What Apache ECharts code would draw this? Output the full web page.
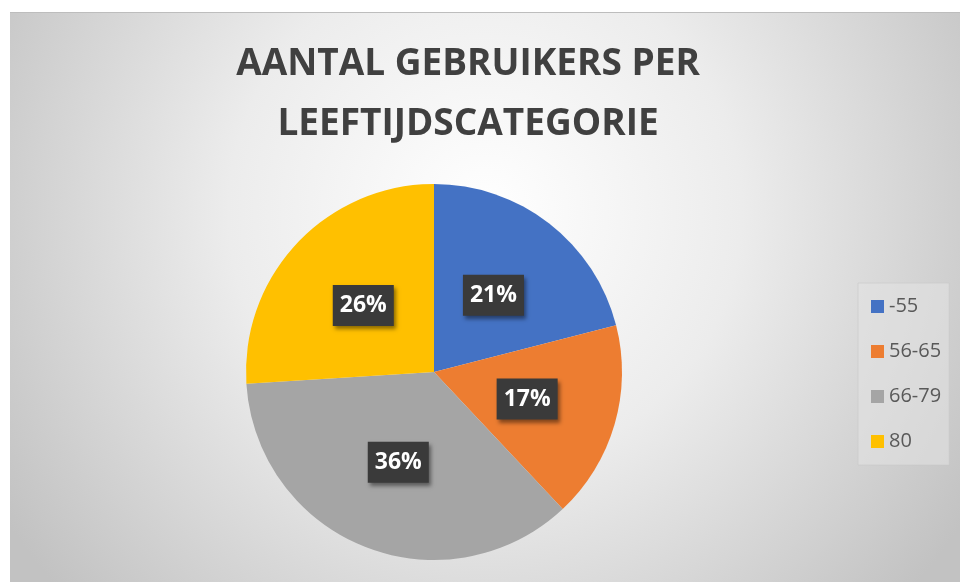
<!DOCTYPE html>
<html>
<head>
<meta charset="utf-8">
<script src="https://cdn.jsdelivr.net/npm/echarts@6/dist/echarts.min.js"></script>
<style>
  html, body { margin: 0; padding: 0; background: #fff; }
  #main { width: 960px; height: 582px; }
</style>
</head>
<body>
<div id="main"></div>
<script>
// leeftijdscategorieen en aandeel (%)
var categories = ['-55', '56-65', '66-79', '80'];
var shares = [21, 17, 36, 26];
var colors = ['#4472c4', '#ed7d31', '#a5a5a5', '#ffc000'];

var myChart = echarts.init(document.getElementById('main'));
myChart.setOption({
  color: colors,
  animation: false,
  title: {
    text: 'AANTAL GEBRUIKERS PER\nLEEFTIJDSCATEGORIE',
    left: 463,
    top: 29,
    textAlign: 'center',
    textStyle: {
      fontFamily: '"Open Sans", sans-serif',
      fontWeight: 'bold',
      fontSize: 37,
      lineHeight: 60,
      color: '#404040'
    }
  },
  graphic: [{
    type: 'rect',
    z: -10,
    shape: { x: 10, y: 12, width: 950, height: 570 },
    style: {
      fill: new echarts.graphic.RadialGradient(0.5, 0.35, 1.0, [
        { offset: 0, color: '#ffffff' },
        { offset: 0.45, color: '#ececec' },
        { offset: 1, color: '#c2c2c2' }
      ]),
      stroke: null
    }
  }, {
    type: 'line',
    z: -9,
    shape: { x1: 10, y1: 12.5, x2: 960, y2: 12.5 },
    style: { stroke: '#bdbdbd', lineWidth: 1 }
  }],
  legend: {
    orient: 'vertical',
    left: 858,
    top: 283,
    padding: [12, 8, 12, 13],
    itemGap: 22,
    itemWidth: 13,
    itemHeight: 13,
    icon: 'rect',
    backgroundColor: 'rgba(228,228,228,0.55)',
    borderColor: 'rgba(200,200,200,0.6)',
    borderWidth: 1,
    textStyle: {
      fontFamily: '"Open Sans", sans-serif',
      fontSize: 20,
      lineHeight: 23,
      color: '#595959'
    },
    data: categories
  },
  series: [{
    type: 'pie',
    center: [434, 372],
    radius: 188,
    startAngle: 90,
    clockwise: true,
    label: {
      position: 'inside',
      formatter: '{c}%',
      fontFamily: '"Open Sans", sans-serif',
      fontWeight: 'bold',
      fontSize: 23,
      lineHeight: 28,
      color: '#ffffff',
      backgroundColor: '#3a3a3a',
      padding: [7, 7, 6, 7],
      shadowBlur: 4,
      shadowOffsetX: 2,
      shadowOffsetY: 3,
      shadowColor: 'rgba(0,0,0,0.45)'
    },
    labelLine: { show: false },
    itemStyle: { borderWidth: 0 },
    emphasis: { disabled: true },
    data: categories.map(function (c, i) {
      return { name: c, value: shares[i] };
    })
  }]
});
</script>
</body>
</html>
